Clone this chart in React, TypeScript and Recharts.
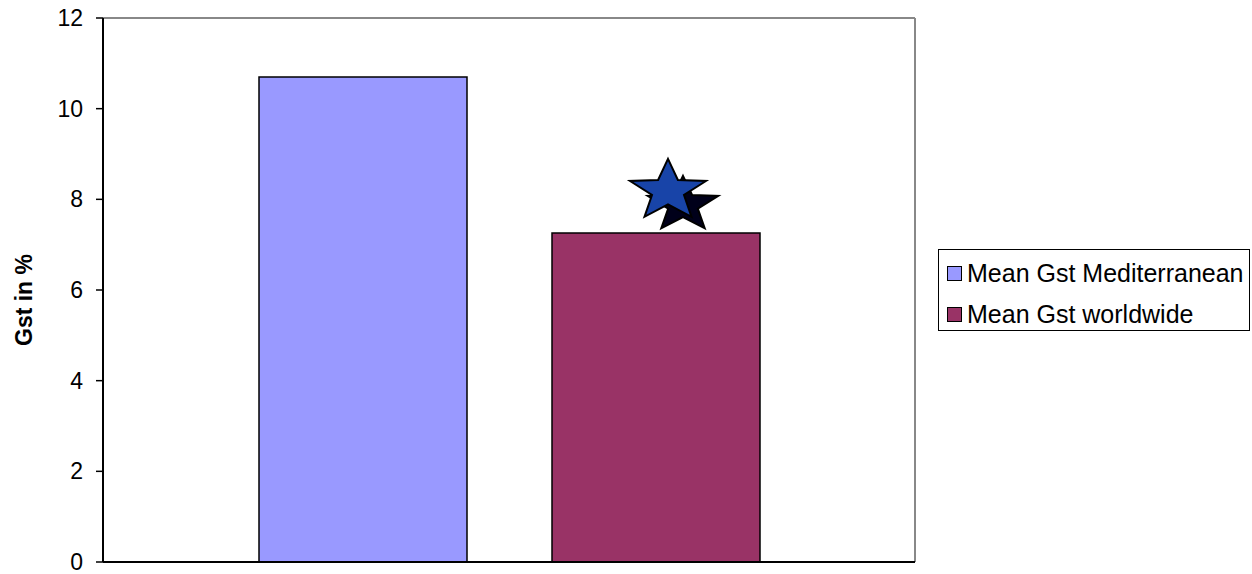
import React from 'react';
import { BarChart, Bar, XAxis, YAxis, Legend, CartesianGrid } from 'recharts';

const categories = ['Gst'];
const seriesNames = ['Mean Gst Mediterranean', 'Mean Gst worldwide'];
const mediterraneanValues = [10.7];
const worldwideValues = [7.26];
const yTicks = [0, 2, 4, 6, 8, 10, 12];
const seriesColors = ['#9999FF', '#993366'];

const data = categories.map((c, i) => ({
  name: c,
  med: mediterraneanValues[i],
  world: worldwideValues[i],
}));

const FONT = '"Liberation Sans", Arial, Helvetica, sans-serif';

function starPoints(cx: number, cy: number, rx: number, ry: number, inner = 0.42) {
  const pts: string[] = [];
  for (let k = 0; k < 10; k++) {
    const ang = -Math.PI / 2 + (k * Math.PI) / 5;
    const f = k % 2 === 0 ? 1 : inner;
    pts.push(`${(cx + Math.cos(ang) * rx * f).toFixed(1)},${(cy + Math.sin(ang) * ry * f).toFixed(1)}`);
  }
  return pts.join(' ');
}

const StarsLabel = (props: any) => {
  const { x, y, width } = props;
  if (x == null || y == null) return null;
  const cx = Number(x) + Number(width) / 2;
  const top = Number(y);
  return (
    <g>
      <polygon points={starPoints(cx + 27, top - 28, 37, 29)} fill="#00001A" stroke="#000000" strokeWidth={2} />
      <polygon points={starPoints(cx + 12, top - 42, 40, 32)} fill="#1844A8" stroke="#000000" strokeWidth={2} />
    </g>
  );
};

const YLabel = (props: any) => {
  const vb = props.viewBox || {};
  const y = (vb.y ?? 18) + (vb.height ?? 544) / 2 + 10;
  const x = 24;
  return (
    <text
      x={x}
      y={y}
      transform={`rotate(-90, ${x}, ${y})`}
      textAnchor="middle"
      dominantBaseline="central"
      fontFamily={FONT}
      fontSize={23}
      fontWeight="bold"
      fill="#000"
    >
      Gst in %
    </text>
  );
};

const LegendContent = () => (
  <div
    style={{
      position: 'relative',
      width: 312,
      height: 82,
      border: '1px solid #000',
      boxSizing: 'border-box',
      background: '#fff',
      fontFamily: FONT,
      fontSize: 25,
      color: '#000',
    }}
  >
    {seriesNames.map((n, i) => (
      <div key={n} style={{ position: 'absolute', left: 8, top: 8 + i * 41, height: 30, display: 'flex', alignItems: 'center', whiteSpace: 'nowrap' }}>
        <span
          style={{
            display: 'inline-block',
            width: 13,
            height: 13,
            background: seriesColors[i],
            border: '1px solid #000',
            marginRight: 5,
          }}
        />
        <span style={{ lineHeight: '30px' }}>{n}</span>
      </div>
    ))}
  </div>
);

export default function App() {
  return (
    <div style={{ position: 'absolute', left: 0, top: 0, width: 1252, height: 574, background: '#fff' }}>
      <BarChart
        width={1252}
        height={574}
        data={data}
        margin={{ top: 18, right: 25, left: 0, bottom: 0 }}
        barCategoryGap={156}
        barGap={85}
      >
        <CartesianGrid
          stroke="#888"
          strokeWidth={2}
          horizontalCoordinatesGenerator={(p: any) => [p.offset.top]}
          verticalCoordinatesGenerator={(p: any) => [p.offset.left + p.offset.width]}
        />
        <XAxis
          dataKey="name"
          height={12}
          tick={false}
          tickLine={false}
          axisLine={{ stroke: '#000', strokeWidth: 2 }}
        />
        <YAxis
          domain={[0, 12]}
          ticks={yTicks}
          width={103}
          tickSize={7}
          tickMargin={13}
          interval={0}
          tickLine={{ stroke: '#000', strokeWidth: 1.5 }}
          axisLine={{ stroke: '#000', strokeWidth: 2 }}
          tick={{ fill: '#000', fontSize: 23, fontFamily: FONT }}
          label={<YLabel />}
        />
        <Legend
          layout="vertical"
          align="right"
          verticalAlign="middle"
          content={<LegendContent />}
          wrapperStyle={{ position: 'absolute', left: 938, top: 249, width: 312, height: 82 }}
        />
        <Bar dataKey="med" name={seriesNames[0]} fill={seriesColors[0]} stroke="#000" strokeWidth={1.5} isAnimationActive={false} />
        <Bar
          dataKey="world"
          name={seriesNames[1]}
          fill={seriesColors[1]}
          stroke="#000"
          strokeWidth={1.5}
          isAnimationActive={false}
          label={<StarsLabel />}
        />
      </BarChart>
    </div>
  );
}
